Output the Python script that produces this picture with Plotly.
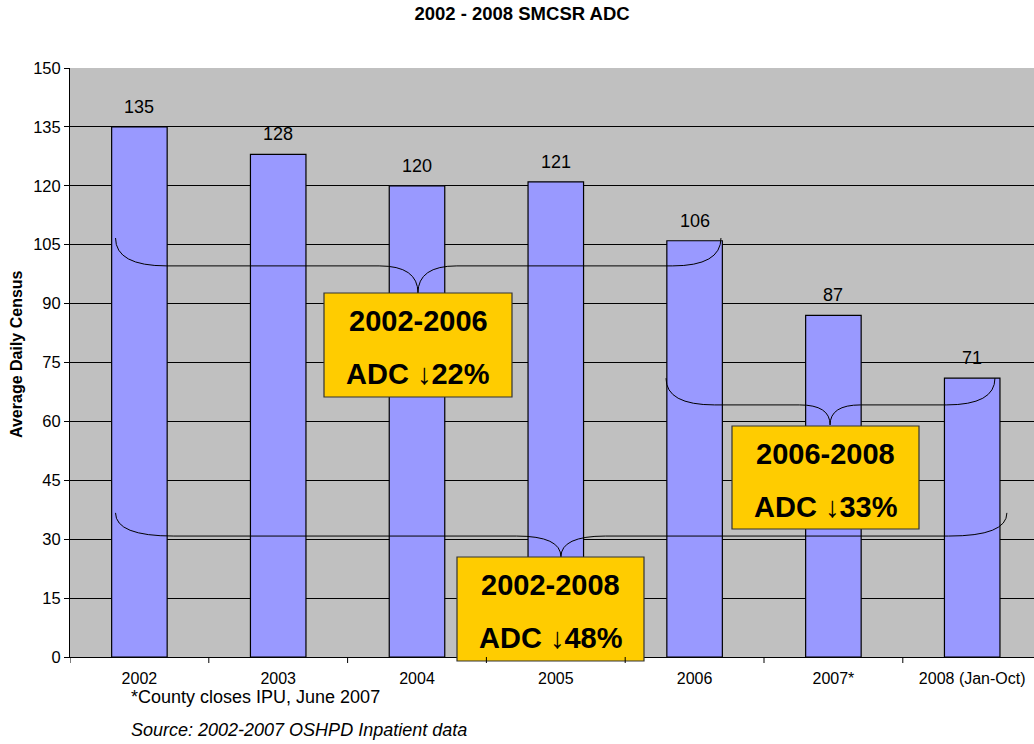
import plotly.graph_objects as go

categories = ["2002", "2003", "2004", "2005", "2006", "2007*", "2008 (Jan-Oct)"]
adc_values = [135, 128, 120, 121, 106, 87, 71]
value_labels = ["135", "128", "120", "121", "106", "87", "71"]
y_ticks = list(range(0, 151, 15))

box_lines = [
    ("2002-2006", "ADC \u219322%"),
    ("2006-2008", "ADC \u219333%"),
    ("2002-2008", "ADC \u219348%"),
]

FONT = "Liberation Sans, Arial, sans-serif"

fig = go.Figure()
fig.add_trace(go.Bar(
    x=list(range(len(categories))), y=adc_values,
    width=0.4,
    marker=dict(color="#9999FF", line=dict(color="black", width=1.2)),
    hoverinfo="skip",
))

annotations = []
for i, (v, lab) in enumerate(zip(adc_values, value_labels)):
    annotations.append(dict(x=i, y=v, xref="x", yref="y", text=lab, showarrow=False,
                            xanchor="center", yanchor="middle",
                            yshift=20, font=dict(size=18, color="black", family=FONT)))

shapes = []

def brace(x0, x1, xt, y0, yh, ytip, dl, dr, dt):
    return (f"M {x0},{y0} Q {x0},{yh} {x0+dl},{yh} L {xt-dt},{yh} "
            f"Q {xt},{yh} {xt},{ytip} Q {xt},{yh} {xt+dt},{yh} "
            f"L {x1-dr},{yh} Q {x1},{yh} {x1},{y0}")

# braces (data coordinates)
shapes.append(dict(type="path", xref="x", yref="y", layer="above",
                   path=brace(-0.172, 4.19, 2.007, 106.7, 99.6, 92.7, 0.37, 0.35, 0.28),
                   line=dict(color="black", width=1)))
shapes.append(dict(type="path", xref="x", yref="y", layer="above",
                   path=brace(3.794, 6.164, 4.976, 71.0, 64.2, 59.1, 0.35, 0.35, 0.22),
                   line=dict(color="black", width=1)))
shapes.append(dict(type="path", xref="x", yref="y", layer="above",
                   path=brace(-0.172, 6.25, 3.037, 36.7, 30.8, 25.5, 0.42, 0.42, 0.32),
                   line=dict(color="black", width=1)))

# yellow boxes (paper coords: plot area 70..1034 px wide, 68..657 px tall)
def px2paper_x(px):
    return (px - 70) / 964.0

def px2paper_y(py):
    return (657 - py) / 589.0

boxes_px = [(324, 512, 293, 397), (732, 919, 426, 529), (457, 644, 557, 661)]
for (xa, xb, ya, yb), (l1, l2) in zip(boxes_px, box_lines):
    shapes.append(dict(type="rect", xref="paper", yref="paper", layer="above",
                       x0=px2paper_x(xa), x1=px2paper_x(xb),
                       y0=px2paper_y(yb), y1=px2paper_y(ya),
                       fillcolor="#FFCC00", line=dict(color="#333333", width=1.2)))
    cx = px2paper_x((xa + xb) / 2)
    annotations.append(dict(x=cx, y=px2paper_y(ya + 28), xref="paper", yref="paper",
                            xanchor="center", yanchor="middle",
                            text=f"<b>{l1}</b>", showarrow=False,
                            font=dict(size=29, color="black", family=FONT)))
    annotations.append(dict(x=cx, y=px2paper_y(ya + 81), xref="paper", yref="paper",
                            xanchor="center", yanchor="middle",
                            text=f"<b>{l2}</b>", showarrow=False,
                            font=dict(size=29, color="black", family=FONT)))

annotations.append(dict(x=px2paper_x(16), y=px2paper_y(354), xref="paper", yref="paper",
                        textangle=-90,
                        text="<b>Average Daily Census</b>", showarrow=False,
                        xanchor="center", yanchor="middle",
                        font=dict(size=16, color="black", family=FONT)))
annotations.append(dict(x=px2paper_x(129), y=px2paper_y(697), xref="paper", yref="paper",
                        text="*County closes IPU, June 2007", showarrow=False,
                        xanchor="left", yanchor="middle",
                        font=dict(size=18, color="black", family=FONT)))
annotations.append(dict(x=px2paper_x(129), y=px2paper_y(730), xref="paper", yref="paper",
                        text="<i>Source: 2002-2007 OSHPD Inpatient data</i>", showarrow=False,
                        xanchor="left", yanchor="middle",
                        font=dict(size=18, color="black", family=FONT)))

fig.update_layout(
    width=1034, height=744,
    margin=dict(l=70, r=0, t=68, b=87),
    paper_bgcolor="white", plot_bgcolor="#C0C0C0",
    showlegend=False,
    title=dict(text="<b>2002 - 2008 SMCSR ADC</b>", x=522/1034, xanchor="center",
               y=1 - 14/744, yanchor="middle",
               font=dict(size=18.5, color="black", family=FONT)),
    xaxis=dict(
        type="linear", range=[-0.5, -0.5 + 964 / 138.8],
        tickmode="array", tickvals=list(range(len(categories))), ticktext=categories,
        showgrid=False, zeroline=False,
        showline=True, linecolor="black", linewidth=1,
        ticks="outside", ticklen=7, tickcolor="rgba(0,0,0,0)",
        tickfont=dict(size=16, color="black", family=FONT),
    ),
    yaxis=dict(
        range=[0, 150], tickmode="array", tickvals=y_ticks,
        showgrid=True, gridcolor="black", gridwidth=1,
        zeroline=False, showline=True, linecolor="black", linewidth=1,
        ticks="outside", ticklen=5, tickcolor="black",
        tickfont=dict(size=16.5, color="black", family=FONT),
    ),
    annotations=annotations,
    shapes=shapes,
    bargap=0.6,
)

# tick marks at category boundaries on x axis
for b in range(len(categories) + 1):
    fig.add_shape(type="line", xref="x", yref="paper", x0=b - 0.5, x1=b - 0.5,
                  y0=0, y1=-6 / 589.0, line=dict(color="black", width=1))

fig.write_html("out.html")
